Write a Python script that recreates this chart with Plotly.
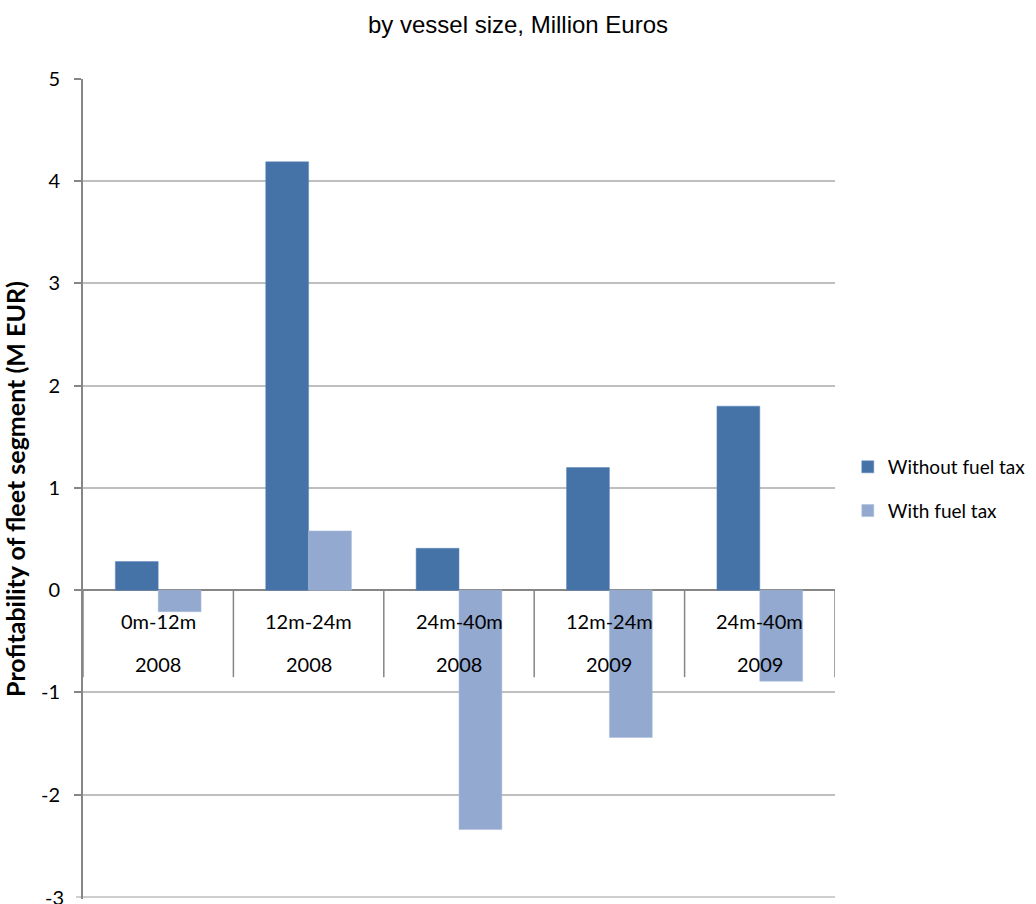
import plotly.graph_objects as go

# Fleet segments (vessel length class and year)
segments = ["0m-12m", "12m-24m", "24m-40m", "12m-24m", "24m-40m"]
years = ["2008", "2008", "2008", "2009", "2009"]
without_fuel_tax = [0.28, 4.19, 0.41, 1.20, 1.80]
with_fuel_tax = [-0.21, 0.58, -2.34, -1.44, -0.89]
y_ticks = [5, 4, 3, 2, 1, 0, -1, -2, -3]

keys = [f"{s} {y}" for s, y in zip(segments, years)]

DARK = "#4572A7"
LIGHT = "#93A9CF"
AXIS = "#868686"
GRID = "#BFBFBF"
LABEL_FONT = dict(family="Lato, 'Open Sans', sans-serif", size=20, color="#000000")

fig = go.Figure()
fig.add_trace(go.Bar(
    x=keys, y=without_fuel_tax, name="Without fuel tax",
    marker=dict(color=DARK, line=dict(color="#5A86BB", width=0.5)),
    legendgroup="a",
))
fig.add_trace(go.Bar(
    x=keys, y=with_fuel_tax, name="With fuel tax",
    marker=dict(color=LIGHT, line=dict(color="#A8BCDD", width=0.5)),
    legendgroup="b",
))

# Two-level category labels hanging below the zero line
for k, seg, yr in zip(keys, segments, years):
    fig.add_annotation(x=k, y=0, xref="x", yref="y", text=seg, showarrow=False,
                       yanchor="middle", yshift=-31, font=LABEL_FONT)
    fig.add_annotation(x=k, y=0, xref="x", yref="y", text=yr, showarrow=False,
                       yanchor="middle", yshift=-74, font=LABEL_FONT)

# Category dividers below the zero line
for i in range(len(keys) + 1):
    fig.add_shape(type="line", xref="x", yref="y", x0=i - 0.5, x1=i - 0.5,
                  y0=0, y1=-0.85, line=dict(color=AXIS, width=1.5), layer="above")

# Bottom tick label sits on the figure edge; place it explicitly so it is kept
fig.add_annotation(x=0, xref="paper", y=y_ticks[-1], yref="y", text=str(y_ticks[-1]),
                   showarrow=False, xanchor="right", yanchor="middle", xshift=-17,
                   font=LABEL_FONT)

fig.update_layout(
    width=1036, height=904,
    paper_bgcolor="white", plot_bgcolor="white",
    margin=dict(l=83, r=201, t=79, b=5, autoexpand=False),
    barmode="group", bargap=0.43, bargroupgap=0,
    title=dict(text="by vessel size, Million Euros", x=0.5, xref="container",
               y=1 - 25 / 904, yanchor="middle", xanchor="center",
               font=dict(family="'Liberation Sans', Arial, sans-serif", size=24, color="#000000")),
    legend=dict(x=1.017, y=0.5, xanchor="left", yanchor="middle",
                font=dict(family="Lato, 'Open Sans', sans-serif", size=19, color="#000000"),
                tracegroupgap=16, bgcolor="rgba(0,0,0,0)"),
    showlegend=True,
)

fig.update_xaxes(
    showticklabels=False, showgrid=False, zeroline=False, showline=False,
    ticks="", range=[-0.5, len(keys) - 0.5],
)
fig.update_yaxes(
    range=[-3.02, 5], tickvals=y_ticks[:-1], ticktext=[str(v) for v in y_ticks[:-1]],
    showgrid=True, gridcolor=GRID, gridwidth=1.5,
    zeroline=True, zerolinecolor=AXIS, zerolinewidth=1.5,
    showline=True, linecolor=AXIS, linewidth=2,
    ticks="outside", ticklen=7, tickcolor=AXIS, tickwidth=1.5,
    tickfont=LABEL_FONT, ticklabelstandoff=10,
    title=dict(text="<b>Profitability of fleet segment (M EUR)</b>",
               font=dict(family="Lato, 'Open Sans', sans-serif", size=25, color="#000000"),
               standoff=10),
)

# Gridline and tick at the bottom value
fig.add_shape(type="line", xref="paper", yref="y", x0=-7 / 752, x1=1,
              y0=y_ticks[-1], y1=y_ticks[-1], line=dict(color=GRID, width=1.5), layer="below")

fig.write_html("out.html")
